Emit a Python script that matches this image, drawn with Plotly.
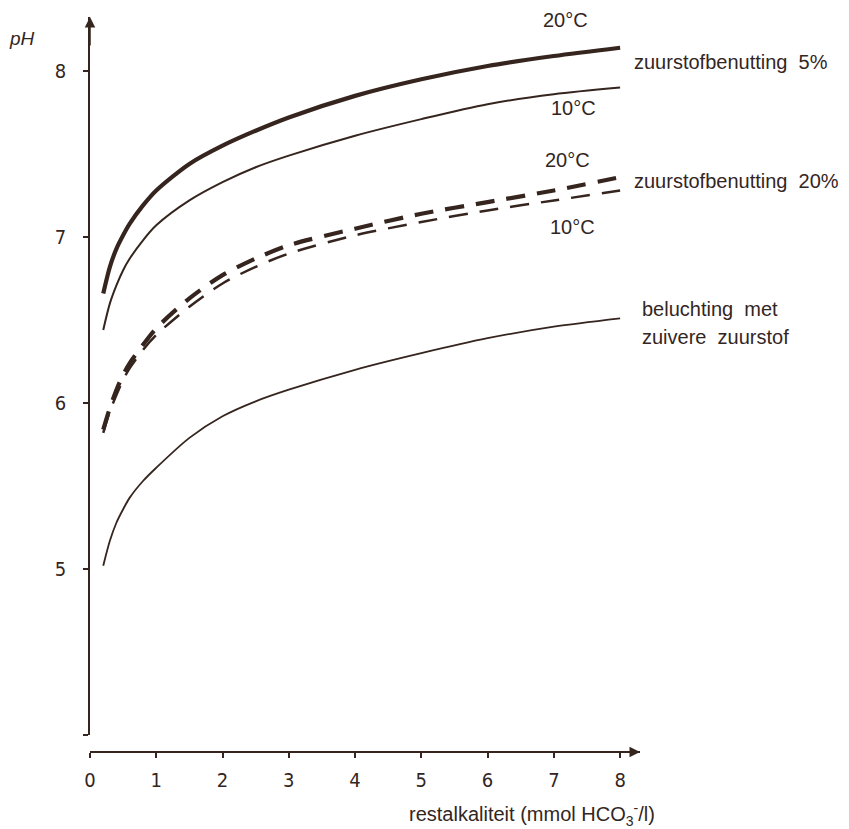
import plotly.graph_objects as go

# ---- data ----
alk = [0.2, 0.3, 0.4, 0.5, 0.6, 0.8, 1.0, 1.5, 2.0, 2.5, 3.0, 4.0, 5.0, 6.0, 7.0, 8.0]
ph_5pct_20C = [6.66, 6.82, 6.93, 7.01, 7.08, 7.19, 7.28, 7.44, 7.55, 7.64, 7.72, 7.85, 7.95, 8.03, 8.09, 8.14]
ph_5pct_10C = [6.44, 6.60, 6.71, 6.80, 6.87, 6.98, 7.07, 7.22, 7.33, 7.42, 7.49, 7.61, 7.71, 7.80, 7.86, 7.90]
ph_20pct_20C = [5.84, 5.97, 6.08, 6.17, 6.24, 6.35, 6.45, 6.63, 6.77, 6.87, 6.95, 7.05, 7.14, 7.21, 7.28, 7.36]
ph_20pct_10C = [5.82, 5.95, 6.05, 6.14, 6.21, 6.32, 6.41, 6.58, 6.72, 6.82, 6.90, 7.01, 7.09, 7.16, 7.22, 7.28]
ph_pure_o2 = [5.02, 5.17, 5.28, 5.36, 5.43, 5.53, 5.61, 5.79, 5.92, 6.01, 6.08, 6.20, 6.30, 6.39, 6.46, 6.51]

x_ticks = [0, 1, 2, 3, 4, 5, 6, 7, 8]
y_ticks = [4, 5, 6, 7, 8]
y_ticktext = ["", "5", "6", "7", "8"]

INK = "#35251e"
TXT = "#33261f"
FONT = "Liberation Sans"
TICKFONT = "DejaVu Sans Condensed"

fig = go.Figure()
series = [
    (ph_5pct_20C, 4.2, "solid"),
    (ph_5pct_10C, 2.0, "solid"),
    (ph_20pct_20C, 4.2, "19px,12px"),
    (ph_20pct_10C, 2.5, "19px,12px"),
    (ph_pure_o2, 1.8, "solid"),
]
for yv, w, d in series:
    fig.add_trace(go.Scatter(x=alk, y=yv, mode="lines",
                             line=dict(color=INK, width=w, dash=d, shape="spline", smoothing=0.8),
                             showlegend=False, hoverinfo="skip"))

# text labels at the right of the curves
labels = [
    ("20°C", 7.17, 8.305, "center"),
    ("zuurstofbenutting  5%", 8.18, 8.054, "left"),
    ("10°C", 7.29, 7.777, "center"),
    ("20°C", 7.21, 7.464, "center"),
    ("zuurstofbenutting  20%", 8.18, 7.337, "left"),
    ("10°C", 7.28, 7.06, "center"),
    ("beluchting  met", 8.30, 6.566, "left"),
    ("zuivere  zuurstof", 8.30, 6.40, "left"),
]
for txt, xv, yv, anc in labels:
    fig.add_annotation(x=xv, y=yv, xref="x", yref="y", text=txt, showarrow=False,
                       xanchor=anc, yanchor="middle", font=dict(family=FONT, size=20, color=TXT))

# pH axis label
fig.add_annotation(x=-0.1236, y=0.971, xref="paper", yref="paper", text="<i>pH</i>", showarrow=False,
                   xanchor="center", yanchor="middle", font=dict(family=FONT, size=19, color=TXT))
# x axis label
fig.add_annotation(x=1.03, y=-0.0857, xref="paper", yref="paper",
                   text="restalkaliteit (mmol HCO<sub>3</sub><sup>-</sup>/l)", showarrow=False,
                   xanchor="right", yanchor="middle", font=dict(family=FONT, size=20, color=TXT))

# axis arrows
fig.add_annotation(x=1.0, y=0, xref="paper", yref="paper", ax=-30, ay=0, text="", showarrow=True,
                   arrowhead=2, arrowsize=1.4, arrowwidth=1.5, arrowcolor=INK)
fig.add_annotation(x=0, y=1.0, xref="paper", yref="paper", ax=0, ay=30, text="", showarrow=True,
                   arrowhead=2, arrowsize=1.4, arrowwidth=1.5, arrowcolor=INK)

fig.update_layout(
    width=849, height=829,
    margin=dict(l=90, r=209, t=17, b=77),
    paper_bgcolor="white", plot_bgcolor="white",
    xaxis=dict(range=[0, 8.30], showgrid=False, zeroline=False, showline=True, linecolor=INK, linewidth=1.5,
               anchor="free", position=0,
               tickmode="array", tickvals=x_ticks, ticks="outside", ticklen=5, tickwidth=1.5, tickcolor=INK,
               ticklabelstandoff=5,
               tickfont=dict(family=TICKFONT, size=20, color=TXT)),
    yaxis=dict(range=[4.0, 8.325], domain=[0.0231, 1], showgrid=False, zeroline=False, showline=True,
               linecolor=INK, linewidth=1.5,
               tickmode="array", tickvals=y_ticks, ticktext=y_ticktext, ticks="outside", ticklen=5,
               tickwidth=1.5, tickcolor=INK, ticklabelstandoff=13,
               tickfont=dict(family=TICKFONT, size=20, color=TXT)),
)

fig.write_html("out.html")
